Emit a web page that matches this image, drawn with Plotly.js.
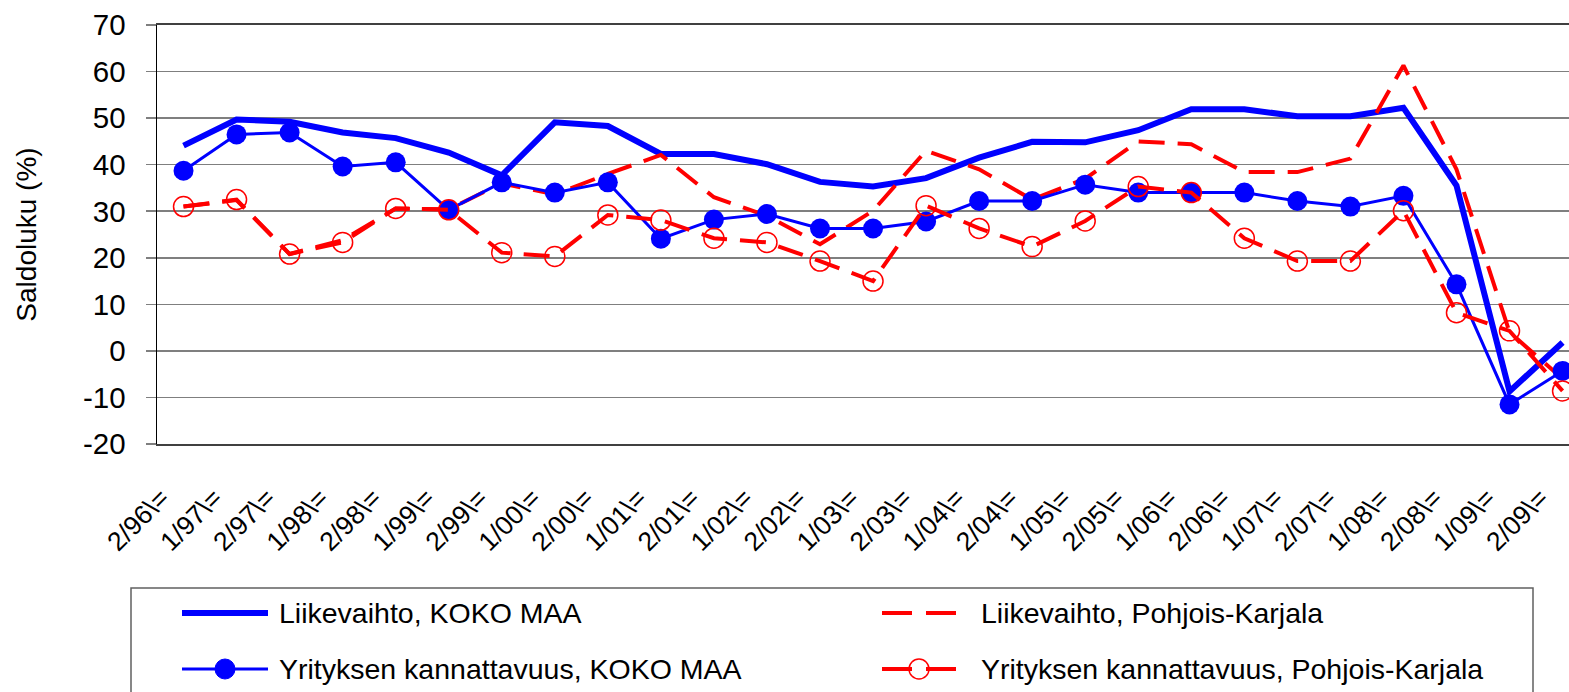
<!DOCTYPE html>
<html>
<head>
<meta charset="utf-8">
<script src="https://cdn.plot.ly/plotly-3.0.1.min.js"></script>
<style>
html, body { margin: 0; padding: 0; background: #ffffff; }
#chart { width: 1569px; height: 692px; }
</style>
</head>
<body>
<div id="chart"></div>
<script>
// ---- Data ----
const categories = ['2/96\\=', '1/97\\=', '2/97\\=', '1/98\\=', '2/98\\=', '1/99\\=', '2/99\\=',
  '1/00\\=', '2/00\\=', '1/01\\=', '2/01\\=', '1/02\\=', '2/02\\=', '1/03\\=', '2/03\\=',
  '1/04\\=', '2/04\\=', '1/05\\=', '2/05\\=', '1/06\\=', '2/06\\=', '1/07\\=', '2/07\\=',
  '1/08\\=', '2/08\\=', '1/09\\=', '2/09\\='];

const liikevaihtoKokoMaa = [44.1, 49.7, 49.2, 46.9, 45.7, 42.6, 37.7, 49.1, 48.3, 42.3, 42.3, 40.1, 36.3, 35.3,
  37.1, 41.5, 44.9, 44.8, 47.4, 51.9, 51.9, 50.4, 50.4, 52.2, 35.5, -8.7, 1.8];

const liikevaihtoPK = [31.0, 32.4, 20.8, 23.8, 30.6, 30.4, 36.0, 33.6, 38.0, 42.1, 33.0, 29.0, 22.9, 30.1,
  43.0, 39.0, 32.5, 37.0, 45.0, 44.4, 38.4, 38.4, 41.3, 61.3, 39.0, 4.0, -6.0];

const kannattavuusKokoMaa = [38.7, 46.5, 46.9, 39.6, 40.5, 30.3, 36.2, 34.0, 36.2, 24.1, 28.2, 29.4, 26.3, 26.3,
  27.8, 32.2, 32.2, 35.7, 34.0, 34.0, 34.0, 32.2, 31.0, 33.3, 14.3, -11.5, -4.3];

const kannattavuusPK = [31.0, 32.5, 20.8, 23.3, 30.6, 30.3, 21.1, 20.3, 29.2, 28.1, 24.2, 23.3, 19.3, 15.0,
  31.2, 26.3, 22.4, 27.9, 35.3, 34.0, 24.2, 19.3, 19.3, 30.1, 8.2, 4.3, -8.6];

const seriesNames = ['Liikevaihto, KOKO MAA', 'Liikevaihto, Pohjois-Karjala',
  'Yrityksen kannattavuus, KOKO MAA', 'Yrityksen kannattavuus, Pohjois-Karjala'];

const yTickValues = [-20, -10, 0, 10, 20, 30, 40, 50, 60, 70];
const yTickLabels = ['-20', '-10', '0', '10', '20', '30', '40', '50', '60', '70'];

const yTitle = 'Saldoluku (%)';

// ---- Layout geometry ----
const W = 1569, H = 692;
const M = { l: 157, r: 0, t: 25, b: 248 };
const PW = W - M.l - M.r, PH = H - M.t - M.b;
const px2x = p => (p - M.l) / PW;          // pixel -> paper x
const py2y = p => (H - M.b - p) / PH;      // pixel -> paper y
const catStep = 53.04;                     // pixels per category
const xMin = -0.5;
const xMax = xMin + PW / catStep;
const labelShiftPx = -22;

const FONT = 'Liberation Sans, Arial, sans-serif';
const BLUE = '#0000FF', RED = '#FF0000';
const DASH = '26px,13px';

const idx = categories.map((_, i) => i);

const traces = [
  { x: idx, y: liikevaihtoKokoMaa, name: seriesNames[0], type: 'scatter', mode: 'lines',
    line: { color: BLUE, width: 6 }, showlegend: false, hoverinfo: 'skip' },
  { x: idx, y: liikevaihtoPK, name: seriesNames[1], type: 'scatter', mode: 'lines',
    line: { color: RED, width: 4, dash: DASH }, showlegend: false, hoverinfo: 'skip' },
  { x: idx, y: kannattavuusKokoMaa, name: seriesNames[2], type: 'scatter', mode: 'lines+markers',
    line: { color: BLUE, width: 3 }, marker: { symbol: 'circle', size: 20, color: BLUE },
    showlegend: false, hoverinfo: 'skip' },
  { x: idx, y: kannattavuusPK, name: seriesNames[3], type: 'scatter', mode: 'lines+markers',
    line: { color: RED, width: 4, dash: DASH },
    marker: { symbol: 'circle-open', size: 20, color: RED, line: { color: RED, width: 1.5 } },
    showlegend: false, hoverinfo: 'skip' }
];

// ---- Custom legend (long line samples as in the reference) ----
const legRows = [613, 669];
const legCols = [{ x0: 182, x1: 268, tx: 277 }, { x0: 882, x1: 956, tx: 979 }];
const legendItems = [
  { row: 0, col: 0, color: BLUE, width: 6, dash: 'solid', marker: null },
  { row: 0, col: 1, color: RED, width: 4, dash: '30px,14px', marker: null },
  { row: 1, col: 0, color: BLUE, width: 3, dash: 'solid', marker: 'filled' },
  { row: 1, col: 1, color: RED, width: 4, dash: '30px,14px', marker: 'open' }
];

const shapes = [
  { type: 'rect', xref: 'paper', yref: 'paper', x0: px2x(131), x1: px2x(1533), y0: py2y(588), y1: py2y(710),
    line: { color: '#606060', width: 1.5 }, fillcolor: 'rgba(0,0,0,0)', layer: 'above' }
];
const annotations = [];
legendItems.forEach((it, k) => {
  const c = legCols[it.col], yp = legRows[it.row];
  shapes.push({ type: 'line', xref: 'paper', yref: 'paper', x0: px2x(c.x0), x1: px2x(c.x1),
    y0: py2y(yp), y1: py2y(yp), line: { color: it.color, width: it.width, dash: it.dash }, layer: 'above' });
  if (it.marker) {
    const cx = (c.x0 + c.x1) / 2;
    shapes.push({ type: 'circle', xref: 'paper', yref: 'paper', xsizemode: 'pixel', ysizemode: 'pixel',
      xanchor: px2x(cx), yanchor: py2y(yp), x0: -10, x1: 10, y0: -10, y1: 10,
      fillcolor: it.marker === 'filled' ? it.color : 'rgba(0,0,0,0)',
      line: { color: it.color, width: it.marker === 'filled' ? 1 : 1.5 }, layer: 'above' });
  }
  annotations.push({ xref: 'paper', yref: 'paper', x: px2x(c.tx), y: py2y(yp), xanchor: 'left', yanchor: 'middle',
    text: seriesNames[k], showarrow: false, font: { family: FONT, size: 28.5, color: '#000000' } });
});

const layout = {
  width: W, height: H,
  margin: M,
  paper_bgcolor: '#ffffff', plot_bgcolor: '#ffffff',
  showlegend: false,
  font: { family: FONT, color: '#000000' },
  xaxis: {
    type: 'linear', range: [xMin, xMax],
    tickmode: 'array',
    tickvals: idx.map(i => i + labelShiftPx / catStep),
    ticktext: categories,
    tickangle: -45,
    ticks: '', showgrid: false, zeroline: false,
    showline: true, linecolor: '#404040', linewidth: 2, mirror: true,
    tickfont: { family: FONT, size: 26.5, color: '#000000' },
    ticklabelstandoff: 26,
    fixedrange: true
  },
  yaxis: {
    range: [-20, 70],
    tickmode: 'array', tickvals: yTickValues, ticktext: yTickLabels,
    showgrid: true, gridcolor: '#7f7f7f', gridwidth: 1.5,
    zeroline: false,
    showline: true, linecolor: '#000000', linewidth: 1.5,
    ticks: 'outside', ticklen: 10, tickcolor: '#7f7f7f', tickwidth: 1.5,
    tickfont: { family: FONT, size: 29.5, color: '#000000' },
    ticklabelstandoff: 14,
    title: { text: yTitle, font: { family: FONT, size: 28, color: '#000000' }, standoff: 38 },
    fixedrange: true
  },
  shapes: shapes,
  annotations: annotations
};

Plotly.newPlot('chart', traces, layout, { displayModeBar: false, staticPlot: true });
</script>
</body>
</html>
